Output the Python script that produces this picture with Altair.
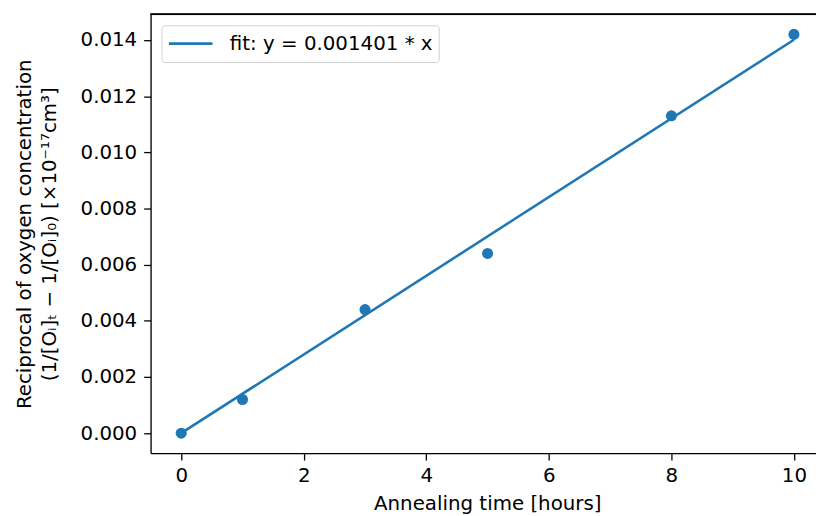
import altair as alt
import pandas as pd

# data
times = [0, 1, 3, 5, 8, 10]
recip = [0.0, 0.0012, 0.0044, 0.0064, 0.0113, 0.0142]
fit_x = [0, 10]
fit_y = [0.0, 0.01401]
fit_label = "fit: y = 0.001401 * x"
x_ticks = [0, 2, 4, 6, 8, 10]
y_ticks = [0.000, 0.002, 0.004, 0.006, 0.008, 0.010, 0.012, 0.014]

BLUE = "#1f77b4"
FONT = "DejaVu Sans"
FS = 20
W, H = 672, 443

pts = pd.DataFrame({"t": times, "v": recip})
fit = pd.DataFrame({"t": fit_x, "v": fit_y, "s": [fit_label] * len(fit_x)})

xscale = alt.Scale(domain=[-0.5, 10.36], nice=False, zero=False)
yscale = alt.Scale(domain=[-0.00071, 0.01491], nice=False, zero=False)

xaxis = alt.Axis(values=x_ticks, format="d", title="Annealing time [hours]", grid=False,
                 labelFontSize=FS, titleFontSize=FS, labelFont=FONT, titleFont=FONT,
                 labelColor="black", titleColor="black", titleFontWeight="normal",
                 domainColor="black", tickColor="black", tickSize=7, labelPadding=6,
                 titlePadding=8, titleX=340, domainWidth=1.3, tickWidth=1.3,
                 labelFlush=False)
yaxis = alt.Axis(values=y_ticks, format=".3f", grid=False,
                 title=["Reciprocal of oxygen concentration",
                        "(1/[Oᵢ]ₜ − 1/[Oᵢ]₀) [×10⁻¹⁷cm³]"],
                 labelFontSize=FS, titleFontSize=FS, labelFont=FONT, titleFont=FONT,
                 labelColor="black", titleColor="black", titleFontWeight="normal",
                 domainColor="black", tickColor="black", tickSize=7, labelPadding=7,
                 titlePadding=21, titleLineHeight=25, domainWidth=1.3, tickWidth=1.3,
                 labelFlush=False)

points = alt.Chart(pts).mark_circle(size=125, color=BLUE, opacity=1).encode(
    x=alt.X("t:Q", scale=xscale, axis=xaxis),
    y=alt.Y("v:Q", scale=yscale, axis=yaxis),
)

line = alt.Chart(fit).mark_line(strokeWidth=2.6).encode(
    x=alt.X("t:Q", scale=xscale),
    y=alt.Y("v:Q", scale=yscale),
    color=alt.Color("s:N", scale=alt.Scale(range=[BLUE]),
                    legend=alt.Legend(title=None, orient="top-left", offset=11,
                                      symbolType="stroke", symbolSize=1936,
                                      symbolStrokeWidth=2.6, labelFontSize=FS,
                                      labelFont=FONT, labelColor="black",
                                      labelLimit=500, clipHeight=25,
                                      padding=6, strokeColor="#d0d0d0",
                                      fillColor="white", cornerRadius=3,
                                      labelOffset=16)),
)

top = alt.Chart(pts).mark_rule(color="black", strokeWidth=1.3).encode(
    x=alt.value(0), x2=alt.value(W), y=alt.value(0)
)

chart = alt.layer(points, line, top).properties(
    width=W, height=H,
    autosize=alt.AutoSizeParams(type="none"),
    padding={"left": 144, "top": 4, "right": 0, "bottom": 60},
).configure_view(stroke=None).configure(background="white")

chart.save("out.html", embed_options={"renderer": "svg", "actions": False})
